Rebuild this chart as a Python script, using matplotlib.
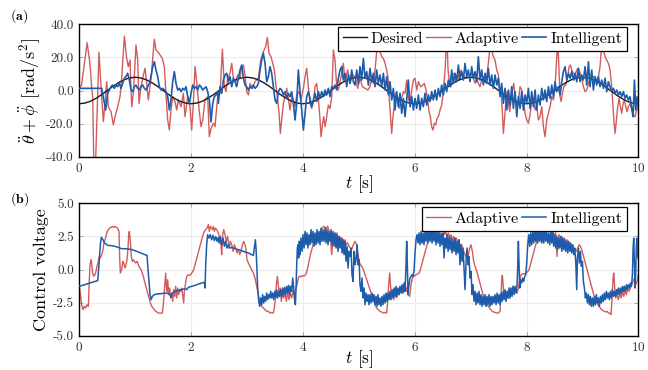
import numpy as np
import matplotlib
matplotlib.use("Agg")
import matplotlib.pyplot as plt

# Police type LaTeX (Computer Modern livrée avec matplotlib)
plt.rcParams['font.family'] = 'serif'
plt.rcParams['font.serif'] = ['cmr10']
plt.rcParams['mathtext.fontset'] = 'cm'
plt.rcParams['axes.unicode_minus'] = False
plt.rcParams['axes.formatter.use_mathtext'] = True

red = '#d25c5c'
blue = '#1c5cab'

# ---- (a) angular acceleration : desired reference, 0.1 s sampling
desired_t = np.linspace(0, 10, 101)
desired_acc = [
    -8.0, -7.6, -6.5, -4.7, -2.5, 0.0, 2.5, 4.7, 6.5, 7.6, 8.0, 7.6, 6.5, 4.7, 2.5, 0.0, -2.5, -4.7, -6.5, -7.6,
    -8.0, -7.6, -6.5, -4.7, -2.5, 0.0, 2.5, 4.7, 6.5, 7.6, 8.0, 7.6, 6.5, 4.7, 2.5, 0.0, -2.5, -4.7, -6.5, -7.6,
    -8.0, -7.6, -6.5, -4.7, -2.5, 0.0, 2.5, 4.7, 6.5, 7.6, 8.0, 7.6, 6.5, 4.7, 2.5, 0.0, -2.5, -4.7, -6.5, -7.6,
    -8.0, -7.6, -6.5, -4.7, -2.5, 0.0, 2.5, 4.7, 6.5, 7.6, 8.0, 7.6, 6.5, 4.7, 2.5, 0.0, -2.5, -4.7, -6.5, -7.6,
    -8.0, -7.6, -6.5, -4.7, -2.5, 0.0, 2.5, 4.7, 6.5, 7.6, 8.0, 7.6, 6.5, 4.7, 2.5, 0.0, -2.5, -4.7, -6.5, -7.6,
    -8.0,
]

# (t [s], value)
adaptive_acc = [
    (0.00, 1.3), (0.04, 3.3), (0.14, 28.9), (0.19, 16.4), (0.22, 2.3), (0.24, -5.0), (0.262, -50.0),
    (0.285, -50.0), (0.317, -15.0), (0.352, 23.1), (0.388, 2.3), (0.43, -18.8), (0.46, -7.8), (0.49, 5.3),
    (0.519, -9.8), (0.567, -12.8), (0.609, -20.8), (0.639, -15.8), (0.686, -9.8), (0.728, -3.7), (0.758, 7.4),
    (0.806, 32.9), (0.847, 19.4), (0.877, 14.4), (0.907, 18.4), (0.937, -9.8), (0.967, -1.7), (1.014, 27.5),
    (1.044, 18.4), (1.068, -7.8), (1.104, 2.3), (1.146, 9.4), (1.175, 13.4), (1.205, 4.3), (1.235, -5.7),
    (1.283, 7.4), (1.342, 30.9), (1.372, 24.5), (1.402, 23.5), (1.444, 21.5), (1.485, 19.4), (1.521, 14.4),
    (1.545, 0.3), (1.581, -17.8), (1.611, -23.9), (1.64, -11.8), (1.67, -3.7), (1.712, -6.7), (1.742, -11.8),
    (1.772, -5.7), (1.819, -9.8), (1.861, -1.7), (1.891, -15.8), (1.939, -3.7), (1.98, -9.8), (2.01, -23.9),
    (2.04, -7.8), (2.07, 14.4), (2.10, 5.3), (2.141, -10.8), (2.177, -21.9), (2.207, -17.8), (2.249, -5.7),
    (2.296, -3.7), (2.326, -27.9), (2.356, -22.9), (2.398, -19.8), (2.427, -21.9), (2.475, -3.7), (2.517, -1.7),
    (2.559, 24.9), (2.595, 2.3), (2.624, -0.7), (2.654, 7.4), (2.696, 10.4), (2.726, 16.4), (2.756, 7.4),
    (2.797, 5.3), (2.833, 9.4), (2.875, 7.4), (2.905, 14.4), (2.935, 15.4), (2.964, 9.4), (2.994, -0.7),
    (3.024, -2.7), (3.054, 4.3), (3.095, 1.3), (3.143, 5.3), (3.203, 7.4), (3.245, 18.4), (3.292, 23.5),
    (3.334, 26.5), (3.364, 32.1), (3.394, 22.5), (3.429, 20.4), (3.453, 17.4), (3.489, 12.4), (3.513, 4.3),
    (3.543, -3.7), (3.573, -13.8), (3.596, -25.9), (3.62, -17.8), (3.65, -7.8), (3.68, -3.7), (3.71, 1.3),
    (3.739, -4.7), (3.769, -11.8), (3.799, -3.7), (3.829, -5.7), (3.859, -9.8), (3.889, -2.7), (3.93, -0.7),
    (3.966, -5.7), (4.008, 1.3), (4.038, 8.4), (4.068, 13.4), (4.097, 2.3), (4.127, -7.8), (4.157, -10.8),
    (4.187, -6.7), (4.217, 2.3), (4.246, 4.3), (4.276, -4.7), (4.306, -17.8), (4.324, -27.9), (4.348, -20.8),
    (4.372, -15.8), (4.396, -21.9), (4.425, -15.8), (4.455, -8.8), (4.485, -10.8), (4.515, -3.7), (4.545, 24.5),
    (4.574, 18.4), (4.604, 2.3), (4.634, 0.3), (4.682, 8.4), (4.723, 16.4), (4.753, 5.3), (4.801, 12.4),
    (4.843, 4.3), (4.884, 9.4), (4.932, 8.4), (4.98, 1.3), (5.021, 7.4), (5.063, 2.3), (5.111, 1.3),
    (5.159, 0.3), (5.2, 2.3), (5.23, 7.4), (5.26, 4.3), (5.29, 12.4), (5.32, 23.5), (5.349, 32.5),
    (5.379, 23.5), (5.409, 20.4), (5.439, 19.4), (5.469, 16.4), (5.498, 12.4), (5.528, 6.3), (5.546, -5.7),
    (5.57, -17.8), (5.588, -25.9), (5.606, -17.8), (5.636, -7.8), (5.659, -1.7), (5.695, -5.7), (5.725, -10.8),
    (5.755, -5.7), (5.797, -0.7), (5.826, -1.7), (5.856, 6.3), (5.886, -4.7), (5.916, -7.8), (5.946, 0.3),
    (5.976, 6.3), (6.005, 7.4), (6.035, 0.3), (6.065, 5.3), (6.107, 2.3), (6.142, 3.3), (6.172, 4.3),
    (6.202, 0.3), (6.232, -5.7), (6.256, -12.8), (6.28, -15.8), (6.303, -21.9), (6.327, -23.9), (6.351, -19.8),
    (6.375, -20.8), (6.399, -16.8), (6.423, -15.8), (6.453, -11.8), (6.482, -8.8), (6.512, -0.7), (6.542, 12.4),
    (6.56, 24.5), (6.578, 30.5), (6.596, 12.4), (6.62, 5.3), (6.649, 2.3), (6.679, 9.4), (6.709, 10.4),
    (6.739, 5.3), (6.769, 10.4), (6.798, 6.3), (6.828, 12.4), (6.858, 9.4), (6.888, 8.4), (6.918, 7.4),
    (6.947, 10.4), (6.977, 9.4), (7.019, 10.4), (7.049, 7.4), (7.079, 4.3), (7.108, 7.4), (7.138, 4.3),
    (7.168, 2.3), (7.198, 6.3), (7.228, 8.4), (7.258, 5.3), (7.287, 8.4), (7.317, 16.4), (7.347, 26.5),
    (7.377, 24.5), (7.407, 20.4), (7.436, 18.4), (7.467, 12.4), (7.497, 9.4), (7.515, 2.3), (7.544, 0.3),
    (7.568, -13.8), (7.586, -25.9), (7.604, -17.8), (7.628, -7.8), (7.652, -0.7), (7.676, -7.8), (7.699, -12.8),
    (7.723, -5.7), (7.747, 0.3), (7.771, 4.3), (7.795, -3.7), (7.825, -9.8), (7.854, -6.7), (7.884, 2.3),
    (7.914, 0.3), (7.944, -5.7), (7.974, -13.8), (8.003, -17.8), (8.033, -19.8), (8.057, -15.8), (8.081, -9.8),
    (8.105, -3.7), (8.129, -7.8), (8.153, -11.8), (8.182, -8.8), (8.212, -17.8), (8.242, -15.8), (8.272, -9.8),
    (8.302, -21.9), (8.331, -27.9), (8.361, -17.8), (8.391, -13.8), (8.421, -9.8), (8.451, -3.7), (8.481, -5.7),
    (8.51, 2.3), (8.528, 12.4), (8.546, 23.5), (8.558, 30.5), (8.582, 10.4), (8.6, -3.7), (8.618, -6.7),
    (8.642, -1.7), (8.665, 2.3), (8.701, 3.3), (8.737, 8.4), (8.761, 14.4), (8.785, 15.4), (8.808, 12.4),
    (8.838, 10.4), (8.868, 9.4), (8.898, 12.4), (8.928, 13.4), (8.958, 10.4), (8.987, 7.4), (9.017, 2.3),
    (9.047, -0.7), (9.077, 0.3), (9.107, 4.3), (9.136, 7.4), (9.166, 8.4), (9.196, 8.4), (9.226, 7.4),
    (9.256, 6.3), (9.286, 8.4), (9.315, 14.4), (9.333, 22.5), (9.345, 30.5), (9.375, 24.5), (9.405, 20.4),
    (9.435, 18.4), (9.464, 16.4), (9.494, 12.4), (9.524, 2.3), (9.548, -9.8), (9.566, -19.8), (9.584, -25.9),
    (9.608, -17.8), (9.631, -9.8), (9.655, -4.7), (9.679, -9.8), (9.703, -13.8), (9.727, -7.8), (9.751, -5.7),
    (9.775, -9.8), (9.798, -12.8), (9.822, -9.8), (9.852, -7.8), (9.882, -11.8), (9.912, -14.8), (9.941, -15.8),
    (9.971, -11.8), (10.0, -7.8),
]

intelligent_acc = [
    (0.0, 1.3), (0.40, 1.3), (0.472, -11.8), (0.507, -1.7), (0.537, 0.3), (0.567, 2.3), (0.597, 3.3),
    (0.627, 1.3), (0.656, 3.3), (0.686, 2.3), (0.716, 4.3), (0.746, 1.3), (0.776, 4.3), (0.806, 7.4),
    (0.835, 8.4), (0.865, 10.4), (0.895, 6.3), (0.925, 0.3), (0.955, -0.7), (0.985, 2.3), (1.014, 3.3),
    (1.044, 1.3), (1.074, 0.3), (1.104, 2.3), (1.134, 3.3), (1.163, 1.3), (1.193, 0.3), (1.223, 2.3),
    (1.253, 4.3), (1.283, 8.4), (1.313, 14.4), (1.342, 17.4), (1.372, 12.4), (1.402, 8.4), (1.432, 2.3),
    (1.462, 0.3), (1.491, 1.3), (1.521, 0.3), (1.551, -0.7), (1.581, -3.7), (1.611, -11.8), (1.64, -5.7),
    (1.67, 5.3), (1.70, 11.4), (1.73, 4.3), (1.76, 0.3), (1.79, 1.3), (1.819, -0.7), (1.849, 1.3),
    (1.879, 0.3), (1.909, 2.3), (1.939, -3.7), (1.969, -7.8), (1.998, -1.7), (2.028, 3.3), (2.058, 1.3),
    (2.088, 2.3), (2.117, 0.3), (2.147, 3.3), (2.177, 2.3), (2.207, 0.3), (2.237, 1.3), (2.267, 2.3),
    (2.296, -0.7), (2.326, -5.7), (2.356, -19.0), (2.386, -7.8), (2.416, -3.7), (2.445, -2.7), (2.475, -0.7),
    (2.487, -7.8), (2.517, 2.3), (2.547, -1.7), (2.577, 6.3), (2.607, 9.4), (2.636, 10.4), (2.666, 5.3),
    (2.696, 8.4), (2.726, 2.3), (2.756, 7.4), (2.785, 5.3), (2.815, 2.3), (2.845, 7.4), (2.875, 12.4),
    (2.905, 15.4), (2.935, 7.4), (2.964, 3.3), (2.994, 2.3), (3.024, 0.3), (3.054, 2.3), (3.084, 1.3),
    (3.113, 3.3), (3.143, 1.3), (3.173, 2.3), (3.203, 4.3), (3.233, 12.4), (3.262, 18.4), (3.292, 22.5),
    (3.322, 16.4), (3.352, 5.3), (3.382, 8.4), (3.411, 14.4), (3.441, 10.4), (3.471, 2.3), (3.501, -5.7),
    (3.531, -7.8), (3.561, -0.7), (3.59, 1.3), (3.62, 0.3), (3.65, -2.7), (3.68, -0.7), (3.71, -4.7),
    (3.739, -1.7), (3.769, -3.7), (3.799, -0.7), (3.829, -7.8), (3.859, -17.8), (3.889, -7.8), (3.918, 12.4),
    (3.948, -0.7), (3.978, -11.8), (4.008, -23.9), (4.038, -13.8), (4.068, -3.7), (4.097, -0.7), (4.127, -4.7),
    (4.157, -9.8), (4.187, -5.7), (4.217, -1.7), (4.246, -6.7), (4.276, -0.7), (4.306, -4.7), (4.336, -0.7),
    (4.366, -3.7), (4.396, 0.3), (4.425, -2.7), (4.455, 1.3), (4.485, -3.7), (4.515, 2.3), (4.545, 1.3),
    (4.574, 3.3), (4.604, 0.3), (4.634, 7.4), (4.664, 12.4), (4.694, 14.4), (4.723, 6.3), (4.753, 10.4),
    (4.783, 2.3), (4.813, 9.4), (4.843, 4.3), (4.873, 12.4), (4.902, 5.3), (4.932, 3.3), (4.962, 12.4),
    (4.992, 4.3), (5.021, 14.4), (5.051, 6.3), (5.081, 19.4), (5.111, 7.4), (5.141, 11.4), (5.171, 3.3),
    (5.2, 13.4), (5.23, 5.3), (5.26, 10.4), (5.29, 2.3), (5.32, 12.4), (5.349, 4.3), (5.379, 9.4),
    (5.409, 2.3), (5.439, 10.4), (5.469, 0.3), (5.498, 8.4), (5.528, -2.7), (5.558, 5.3), (5.588, -5.7),
    (5.618, 1.3), (5.648, -11.8), (5.677, -0.7), (5.707, -9.8), (5.737, -1.7), (5.767, -13.8), (5.797, -4.7),
    (5.826, -15.8), (5.856, -5.7), (5.886, 6.3), (5.916, -9.8), (5.946, -3.7), (5.976, -11.8), (6.005, -4.7),
    (6.035, -10.8), (6.065, -2.7), (6.095, -11.8), (6.125, -4.7), (6.154, -9.8), (6.184, -1.7), (6.214, -8.8),
    (6.244, -2.7), (6.274, -6.7), (6.303, -0.7), (6.333, -5.7), (6.363, 0.3), (6.393, -5.7), (6.423, 1.3),
    (6.453, -3.7), (6.482, 3.3), (6.512, -2.7), (6.542, 4.3), (6.572, -0.7), (6.602, 6.3), (6.631, 2.3),
    (6.661, 12.4), (6.691, 4.3), (6.721, 10.4), (6.751, 5.3), (6.78, 15.4), (6.81, 7.4), (6.84, 11.4),
    (6.87, 6.3), (6.9, 16.4), (6.93, 8.4), (6.959, 12.4), (6.989, 5.3), (7.019, 14.4), (7.049, 7.4),
    (7.079, 11.4), (7.108, 5.3), (7.138, 20.4), (7.168, 6.3), (7.198, 12.4), (7.228, 3.3), (7.258, 10.4),
    (7.287, 4.3), (7.317, 13.4), (7.347, 3.3), (7.377, 9.4), (7.407, 1.3), (7.437, 9.4), (7.467, 3.3),
    (7.497, 7.4), (7.526, -3.7), (7.556, 4.3), (7.586, -7.8), (7.616, 1.3), (7.646, -11.8), (7.676, 0.3),
    (7.705, -8.8), (7.735, 2.3), (7.765, -10.8), (7.795, -0.7), (7.825, -15.8), (7.854, -3.7), (7.884, -10.8),
    (7.914, -0.7), (7.944, -11.8), (7.974, -2.7), (8.003, -7.8), (8.033, 1.3), (8.063, -10.8), (8.093, -0.7),
    (8.123, -9.8), (8.153, 0.3), (8.182, -11.8), (8.212, -2.7), (8.242, -8.8), (8.272, 1.3), (8.302, -5.7),
    (8.331, 0.3), (8.361, -6.7), (8.391, 2.3), (8.421, -4.7), (8.451, 3.3), (8.481, -3.7), (8.51, 5.3),
    (8.54, -0.7), (8.57, 2.3), (8.6, -2.7), (8.63, 5.3), (8.659, 11.4), (8.689, 14.4), (8.719, 6.3),
    (8.749, 10.4), (8.779, 7.4), (8.808, 11.4), (8.838, 6.3), (8.868, 10.4), (8.898, 5.3), (8.928, 13.4),
    (8.958, 5.3), (8.987, 9.4), (9.017, 6.3), (9.047, 14.4), (9.077, 3.3), (9.107, 17.4), (9.136, 2.3),
    (9.166, 12.4), (9.196, 0.3), (9.226, 8.4), (9.256, 3.3), (9.286, 8.4), (9.315, 2.3), (9.345, 6.3),
    (9.375, 1.3), (9.405, 7.4), (9.435, -0.7), (9.464, 5.3), (9.494, 2.3), (9.524, -0.7), (9.554, 1.3),
    (9.584, -1.7), (9.613, 0.3), (9.643, -2.7), (9.673, -0.7), (9.703, -3.7), (9.733, -0.7), (9.762, -4.7),
    (9.792, -2.7), (9.822, -5.7), (9.852, -3.7), (9.882, -10.8), (9.906, -15.8), (9.93, 6.3), (9.953, -11.8),
    (9.977, -3.7), (10.0, -7.8),
]

# ---- (b) control voltage, (t [s], V)
adaptive_volt = [
    (0.0, -1.27), (0.019, -1.90), (0.042, -2.66), (0.066, -3.04), (0.09, -2.78), (0.114, -2.91), (0.138, -2.66),
    (0.162, -2.78), (0.173, -1.40), (0.191, 0.36), (0.209, 0.74), (0.221, 0.49), (0.239, -0.27), (0.257, -0.52),
    (0.281, -0.39), (0.299, -0.14), (0.317, 0.24), (0.34, 0.62), (0.358, 0.99), (0.376, 0.87), (0.40, 1.12),
    (0.418, 1.37), (0.436, 1.87), (0.46, 2.25), (0.483, 2.63), (0.501, 2.88), (0.519, 3.01), (0.543, 3.13),
    (0.567, 3.18), (0.591, 3.26), (0.615, 3.18), (0.639, 3.26), (0.662, 3.18), (0.686, 3.13), (0.71, 2.88),
    (0.722, 0.87), (0.734, -0.27), (0.758, -0.01), (0.776, 0.62), (0.794, 0.49), (0.818, 0.11), (0.835, 0.36),
    (0.853, 0.74), (0.871, 1.62), (0.883, 2.63), (0.895, 2.88), (0.913, 2.13), (0.931, 0.99), (0.949, 0.62),
    (0.967, 0.74), (0.985, 0.62), (1.008, 0.49), (1.032, 0.62), (1.056, 0.36), (1.08, 0.11), (1.104, -0.01),
    (1.128, -0.27), (1.151, -0.64), (1.175, -1.02), (1.199, -1.40), (1.223, -1.78), (1.247, -2.15), (1.271, -2.53),
    (1.295, -2.78), (1.318, -2.91), (1.342, -3.04), (1.366, -3.16), (1.39, -3.21), (1.414, -3.29), (1.438, -3.29),
    (1.462, -3.29), (1.485, -3.29), (1.503, -2.66), (1.521, -1.65), (1.533, -0.90), (1.545, -0.27), (1.557, -1.27),
    (1.569, -1.65), (1.581, -0.77), (1.599, -1.90), (1.617, -1.40), (1.634, -2.15), (1.652, -1.78), (1.67, -2.41),
    (1.688, -1.52), (1.706, -2.03), (1.724, -1.27), (1.742, -2.15), (1.76, -1.40), (1.778, -1.90), (1.795, -1.52),
    (1.813, -1.65), (1.831, -1.40), (1.849, -1.90), (1.867, -2.53), (1.879, -1.65), (1.897, -1.15), (1.915, -0.64),
    (1.933, -0.45), (1.951, -0.40), (1.974, -0.45), (1.998, -0.35), (2.022, -0.20), (2.046, -0.01), (2.07, 0.36),
    (2.094, 0.74), (2.117, 1.12), (2.141, 1.50), (2.165, 1.87), (2.189, 2.25), (2.213, 2.63), (2.237, 2.88),
    (2.261, 3.01), (2.284, 3.13), (2.308, 3.39), (2.326, 2.88), (2.344, 3.26), (2.362, 3.13), (2.38, 3.01),
    (2.398, 3.26), (2.416, 2.88), (2.434, 3.13), (2.457, 3.01), (2.487, 2.76), (2.517, 2.38), (2.535, 1.75),
    (2.547, 1.12), (2.565, 2.63), (2.583, 3.01), (2.607, 2.63), (2.63, 2.13), (2.654, 2.50), (2.678, 1.62),
    (2.702, 2.13), (2.726, 1.87), (2.75, 1.37), (2.773, 1.87), (2.797, 1.62), (2.821, 1.25), (2.845, 1.50),
    (2.869, 1.12), (2.893, 1.37), (2.917, 1.87), (2.94, 2.13), (2.964, 1.87), (2.982, 1.50), (3.0, 0.74),
    (3.024, 0.49), (3.054, 0.24), (3.084, -0.01), (3.113, -0.27), (3.143, -0.64), (3.167, -1.15), (3.191, -1.65),
    (3.215, -2.15), (3.239, -2.53), (3.262, -2.78), (3.292, -2.91), (3.322, -3.04), (3.352, -3.16), (3.382, -3.16),
    (3.411, -3.29), (3.441, -3.24), (3.471, -3.29), (3.489, -2.91), (3.507, -2.15), (3.525, -1.15), (3.543, -0.52),
    (3.561, -1.27), (3.578, -1.90), (3.596, -1.40), (3.614, -2.41), (3.632, -1.78), (3.656, -2.15), (3.68, -1.78),
    (3.704, -2.41), (3.727, -1.65), (3.751, -2.28), (3.775, -1.78), (3.799, -2.15), (3.823, -1.65), (3.847, -1.90),
    (3.871, -1.52), (3.894, -1.15), (3.918, -0.64), (3.942, -0.50), (3.966, -0.55), (3.99, -0.45), (4.014, -0.50),
    (4.038, -0.45), (4.062, -0.27), (4.085, 0.11), (4.109, 0.62), (4.133, 1.12), (4.157, 1.50), (4.181, 1.87),
    (4.205, 2.13), (4.228, 2.25), (4.252, 2.50), (4.276, 2.63), (4.3, 2.76), (4.324, 3.01), (4.348, 3.13),
    (4.372, 3.26), (4.396, 3.18), (4.419, 3.08), (4.443, 3.26), (4.467, 2.88), (4.491, 2.50), (4.515, 1.12),
    (4.538, 2.38), (4.562, 2.76), (4.586, 2.50), (4.61, 2.76), (4.634, 2.25), (4.658, 2.50), (4.682, 2.13),
    (4.705, 2.38), (4.729, 2.00), (4.753, 2.25), (4.777, 1.87), (4.801, 2.00), (4.825, 1.75), (4.849, 1.60),
    (4.872, 1.50), (4.896, 1.80), (4.932, 2.13), (4.962, 1.87), (4.98, 1.37), (5.004, 0.62), (5.027, 0.36),
    (5.051, 0.24), (5.081, -0.01), (5.111, -0.39), (5.141, -0.77), (5.171, -1.15), (5.2, -1.52), (5.23, -1.90),
    (5.26, -2.28), (5.29, -2.66), (5.32, -2.91), (5.349, -3.04), (5.379, -3.16), (5.409, -3.21), (5.439, -3.29),
    (5.469, -3.24), (5.498, -3.29), (5.516, -2.41), (5.534, -1.15), (5.552, -0.27), (5.57, -1.40), (5.588, -2.15),
    (5.606, -1.65), (5.624, -2.28), (5.648, -1.65), (5.671, -2.15), (5.695, -1.52), (5.719, -1.90), (5.743, -1.40),
    (5.767, -1.78), (5.791, -1.27), (5.815, -1.65), (5.838, -1.27), (5.862, -1.65), (5.886, -1.90), (5.91, -2.03),
    (5.934, -1.15), (5.958, -0.64), (5.981, -0.52), (6.005, -0.44), (6.029, -0.39), (6.053, -0.34), (6.077, -0.27),
    (6.101, -0.01), (6.125, 0.36), (6.148, 0.74), (6.172, 1.12), (6.196, 1.50), (6.22, 1.87), (6.244, 2.18),
    (6.268, 2.43), (6.292, 2.63), (6.315, 2.83), (6.339, 2.93), (6.363, 3.01), (6.387, 3.08), (6.411, 3.13),
    (6.435, 3.01), (6.459, 3.18), (6.482, 2.88), (6.506, 3.08), (6.53, 2.63), (6.554, 2.88), (6.578, 2.50),
    (6.602, 2.76), (6.625, 2.38), (6.649, 2.63), (6.673, 2.25), (6.697, 2.50), (6.721, 2.13), (6.745, 2.38),
    (6.769, 2.00), (6.792, 2.13), (6.816, 1.75), (6.84, 1.87), (6.864, 1.50), (6.888, 1.25), (6.912, 0.99),
    (6.936, 0.87), (6.959, 1.12), (6.983, 1.62), (7.007, 1.87), (7.031, 1.37), (7.055, 0.62), (7.079, 0.24),
    (7.102, -0.01), (7.126, -0.39), (7.15, -0.77), (7.174, -1.15), (7.198, -1.52), (7.222, -1.90), (7.246, -2.15),
    (7.27, -2.41), (7.293, -2.66), (7.317, -2.78), (7.347, -2.96), (7.377, -3.11), (7.407, -3.21), (7.436, -3.24),
    (7.466, -3.29), (7.496, -3.29), (7.526, -3.16), (7.544, -1.90), (7.556, -0.77), (7.568, -0.44), (7.586, -1.40),
    (7.604, -2.15), (7.622, -1.78), (7.64, -2.28), (7.664, -1.65), (7.687, -2.15), (7.711, -1.40), (7.735, -1.90),
    (7.759, -1.27), (7.783, -1.78), (7.807, -1.40), (7.831, -1.78), (7.854, -1.40), (7.878, -0.80), (7.902, -0.40),
    (7.926, -0.35), (7.95, -0.30), (7.974, -0.35), (7.998, -0.25), (8.021, -0.15), (8.045, -0.01), (8.069, 0.36),
    (8.093, 0.74), (8.117, 1.12), (8.141, 1.50), (8.164, 1.87), (8.188, 2.18), (8.212, 2.43), (8.236, 2.63),
    (8.26, 2.76), (8.284, 2.88), (8.308, 2.93), (8.331, 3.01), (8.355, 2.93), (8.379, 3.08), (8.403, 2.88),
    (8.427, 3.01), (8.451, 2.63), (8.475, 2.88), (8.498, 2.50), (8.522, 2.76), (8.546, 0.99), (8.558, 2.38),
    (8.582, 2.63), (8.606, 2.25), (8.63, 2.50), (8.653, 2.13), (8.677, 2.38), (8.701, 2.00), (8.725, 2.25),
    (8.749, 1.87), (8.773, 2.00), (8.797, 1.62), (8.82, 1.87), (8.844, 1.62), (8.868, 1.50), (8.892, 1.37),
    (8.916, 1.62), (8.94, 1.87), (8.964, 1.75), (8.987, 1.50), (9.011, 1.12), (9.035, 0.74), (9.059, 0.36),
    (9.083, -0.01), (9.107, -0.39), (9.131, -0.77), (9.154, -1.15), (9.178, -1.52), (9.202, -1.90), (9.226, -2.15),
    (9.25, -2.41), (9.274, -2.66), (9.297, -2.78), (9.321, -2.91), (9.345, -3.04), (9.369, -3.11), (9.393, -3.16),
    (9.417, -3.21), (9.441, -3.16), (9.464, -3.29), (9.488, -3.29), (9.512, -3.41), (9.53, -2.15), (9.548, -0.64),
    (9.56, -0.27), (9.578, -1.40), (9.596, -2.15), (9.62, -1.90), (9.643, -2.28), (9.667, -1.78), (9.691, -2.15),
    (9.715, -1.65), (9.739, -2.03), (9.762, -1.52), (9.786, -1.90), (9.81, -1.40), (9.834, -1.65), (9.858, -1.40),
    (9.882, -1.15), (9.906, -0.90), (9.93, -0.64), (9.953, -1.15), (9.977, -0.90), (10.0, -0.39),
]

intelligent_volt = [
    (0.0, -1.27), (0.329, -0.84), (0.352, 0.36), (0.376, 1.87), (0.394, 2.43), (0.424, 2.25), (0.448, 2.00),
    (0.472, 1.93), (0.495, 1.87), (0.519, 1.82), (0.579, 1.80), (0.639, 1.75), (0.698, 1.67), (0.758, 1.57),
    (0.818, 1.57), (0.877, 1.55), (0.937, 1.50), (0.997, 1.42), (1.056, 1.32), (1.116, 1.22), (1.175, 1.12),
    (1.211, 1.07), (1.223, 0.36), (1.247, -0.90), (1.265, -1.90), (1.283, -2.28), (1.307, -2.03), (1.342, -1.90),
    (1.384, -1.85), (1.444, -1.83), (1.503, -1.80), (1.563, -1.78), (1.622, -1.90), (1.64, -2.10), (1.664, -1.78),
    (1.712, -1.65), (1.772, -1.57), (1.831, -1.50), (1.891, -1.45), (1.921, -1.52), (1.951, -1.35), (2.01, -1.27),
    (2.07, -1.20), (2.129, -1.10), (2.189, -1.02), (2.237, -0.97), (2.249, -1.40), (2.261, 0.36), (2.278, 1.87),
    (2.296, 2.63), (2.32, 2.38), (2.344, 2.63), (2.368, 2.25), (2.392, 2.58), (2.416, 2.18), (2.44, 2.50),
    (2.463, 2.13), (2.487, 2.43), (2.499, 2.00), (2.523, 2.50), (2.547, 1.87), (2.571, 2.38), (2.595, 1.75),
    (2.618, 2.13), (2.642, 1.62), (2.666, 1.87), (2.696, 1.62), (2.726, 1.67), (2.756, 1.62), (2.785, 1.57),
    (2.845, 1.50), (2.905, 1.42), (2.964, 1.32), (3.024, 1.25), (3.084, 1.12), (3.113, 1.07), (3.131, 1.62),
    (3.149, 2.25), (3.161, 1.62), (3.173, 0.36), (3.191, -1.40), (3.209, -2.41), (3.227, -2.78), (3.245, -2.15),
    (3.262, -2.66), (3.28, -1.90), (3.298, -2.53), (3.316, -2.03), (3.334, -2.41), (3.352, -1.78), (3.37, -2.28),
    (3.388, -1.90), (3.405, -2.15), (3.423, -1.65), (3.441, -2.15), (3.459, -1.78), (3.477, -2.28), (3.495, -1.65),
    (3.513, -2.15), (3.531, -1.52), (3.549, -2.15), (3.567, -1.65), (3.584, -2.03), (3.602, -1.52), (3.62, -2.03),
    (3.638, -1.40), (3.656, -1.90), (3.674, -1.35), (3.692, -1.90), (3.71, -1.27), (3.727, -1.78), (3.745, -1.20),
    (3.763, -1.90), (3.781, -1.27), (3.799, -1.65), (3.817, -0.64), (3.835, -1.40), (3.847, -2.15), (3.865, -2.66),
    (3.877, -1.40), (3.889, 0.36), (3.9, 1.62), (3.912, 1.87), (3.924, 0.87), (3.936, 2.13), (3.948, 1.12),
    (3.966, 2.38), (3.984, 1.37), (4.002, 2.63), (4.02, 1.62), (4.038, 2.88), (4.056, 1.87), (4.073, 2.76),
    (4.091, 1.62), (4.109, 2.63), (4.127, 1.87), (4.145, 3.01), (4.163, 2.00), (4.181, 2.88), (4.199, 1.75),
    (4.217, 2.76), (4.234, 1.87), (4.252, 3.01), (4.27, 2.00), (4.288, 2.88), (4.306, 1.87), (4.324, 3.13),
    (4.342, 2.13), (4.36, 3.01), (4.378, 2.13), (4.396, 3.13), (4.413, 2.00), (4.431, 3.01), (4.449, 1.87),
    (4.467, 2.88), (4.485, 2.13), (4.503, 3.01), (4.521, 1.87), (4.538, 2.88), (4.556, 1.75), (4.574, 2.76),
    (4.592, 1.62), (4.61, 2.63), (4.628, 1.37), (4.646, 2.50), (4.664, 1.62), (4.682, 2.38), (4.7, 1.25),
    (4.717, 2.25), (4.735, 1.12), (4.753, 2.13), (4.771, 0.62), (4.789, 1.75), (4.807, 0.11), (4.825, 1.37),
    (4.843, 0.99), (4.86, 1.62), (4.878, -0.39), (4.896, -0.90), (4.914, 1.37), (4.932, 0.36), (4.95, 0.74),
    (4.968, 1.87), (4.986, 0.36), (5.004, 0.74), (5.021, -1.15), (5.039, -1.65), (5.057, -0.64), (5.075, -2.15),
    (5.093, -1.40), (5.111, -2.66), (5.129, -1.78), (5.147, -2.41), (5.165, -1.90), (5.182, -2.66), (5.2, -1.90),
    (5.218, -2.53), (5.236, -1.78), (5.254, -2.41), (5.272, -1.90), (5.29, -2.66), (5.308, -2.03), (5.326, -2.78),
    (5.343, -1.90), (5.361, -2.66), (5.379, -2.15), (5.397, -2.78), (5.415, -2.03), (5.433, -2.66), (5.451, -1.90),
    (5.469, -2.53), (5.487, -1.78), (5.504, -2.41), (5.522, -1.78), (5.54, -2.28), (5.558, -1.65), (5.576, -2.28),
    (5.594, -1.52), (5.612, -2.15), (5.63, -1.40), (5.648, -2.03), (5.665, -1.27), (5.683, -2.03), (5.701, -1.40),
    (5.719, -1.90), (5.737, -1.27), (5.755, -1.78), (5.773, -1.15), (5.791, -1.78), (5.809, -1.02), (5.826, -1.65),
    (5.844, 0.36), (5.856, 2.13), (5.868, 0.36), (5.88, -1.90), (5.898, -1.15), (5.916, -0.64), (5.934, -0.52),
    (5.952, -0.39), (5.97, -0.52), (5.987, -0.14), (6.005, 1.25), (6.023, 2.25), (6.041, 2.63), (6.059, 2.00),
    (6.077, 2.76), (6.095, 1.87), (6.113, 2.88), (6.131, 2.00), (6.148, 2.76), (6.166, 1.87), (6.184, 2.88),
    (6.202, 2.13), (6.22, 3.01), (6.238, 2.00), (6.256, 2.88), (6.274, 2.13), (6.292, 3.01), (6.309, 2.00),
    (6.327, 2.88), (6.345, 2.13), (6.363, 3.01), (6.381, 1.87), (6.399, 2.88), (6.417, 2.00), (6.435, 2.88),
    (6.453, 1.75), (6.47, 2.76), (6.488, 1.87), (6.506, 2.76), (6.524, 0.87), (6.542, 2.38), (6.56, 1.62),
    (6.578, 2.63), (6.596, 1.37), (6.614, 2.50), (6.631, 1.50), (6.649, 2.38), (6.667, 1.25), (6.685, 2.25),
    (6.703, 1.37), (6.721, 2.38), (6.739, 1.12), (6.757, 2.13), (6.775, 1.25), (6.792, 2.25), (6.81, 0.36),
    (6.828, 1.87), (6.846, 0.62), (6.864, 1.62), (6.882, 0.11), (6.9, -1.52), (6.918, 0.62), (6.936, 1.62),
    (6.953, 0.36), (6.971, 0.99), (6.989, -0.64), (7.007, -0.14), (7.025, -1.90), (7.043, -1.15), (7.061, -2.41),
    (7.079, -1.65), (7.097, -2.66), (7.114, -1.78), (7.132, -2.53), (7.15, -1.65), (7.168, -2.66), (7.186, -1.90),
    (7.204, -2.78), (7.222, -2.03), (7.24, -2.66), (7.258, -1.90), (7.275, -2.78), (7.293, -2.03), (7.311, -2.66),
    (7.329, -1.90), (7.347, -2.78), (7.365, -2.03), (7.383, -2.66), (7.4, -2.03), (7.418, -2.53), (7.436, -1.90),
    (7.455, -2.66), (7.473, -1.78), (7.491, -2.53), (7.509, -1.90), (7.526, -2.66), (7.544, -1.78), (7.562, -2.41),
    (7.58, -1.65), (7.598, -2.28), (7.616, -1.52), (7.634, -2.41), (7.652, -1.65), (7.67, -2.15), (7.687, -1.40),
    (7.705, -2.15), (7.723, -1.40), (7.741, -2.03), (7.759, -1.27), (7.777, -1.90), (7.795, -1.27), (7.813, -1.78),
    (7.831, -1.15), (7.843, 0.36), (7.854, 2.13), (7.866, 0.36), (7.878, -1.40), (7.896, -0.77), (7.914, -1.02),
    (7.932, -0.64), (7.95, -0.90), (7.968, -0.52), (7.986, -0.39), (8.003, 0.49), (8.021, 1.87), (8.039, 2.63),
    (8.057, 1.75), (8.075, 2.76), (8.093, 1.87), (8.111, 2.88), (8.129, 2.00), (8.147, 2.88), (8.164, 2.13),
    (8.182, 3.01), (8.2, 2.00), (8.218, 2.88), (8.236, 2.13), (8.254, 3.01), (8.272, 2.00), (8.29, 2.88),
    (8.308, 2.00), (8.325, 3.01), (8.343, 2.13), (8.361, 2.88), (8.379, 2.00), (8.397, 2.76), (8.415, 1.87),
    (8.433, 2.88), (8.451, 2.00), (8.469, 2.76), (8.486, 1.75), (8.504, 2.63), (8.522, 1.62), (8.54, 2.50),
    (8.558, 1.50), (8.576, 2.38), (8.594, 1.62), (8.612, 2.50), (8.63, 1.37), (8.647, 2.38), (8.665, 1.50),
    (8.683, 2.25), (8.701, 1.37), (8.719, 2.13), (8.737, 1.25), (8.755, 2.13), (8.773, 1.37), (8.791, 2.00),
    (8.808, 1.25), (8.826, 1.87), (8.844, 1.12), (8.862, 1.62), (8.88, 0.62), (8.898, -1.52), (8.91, 0.87),
    (8.928, 1.62), (8.946, 0.49), (8.964, 1.37), (8.981, 0.24), (8.999, 0.62), (9.017, -0.90), (9.035, -1.40),
    (9.053, -2.15), (9.071, -1.78), (9.089, -2.53), (9.107, -1.90), (9.125, -2.66), (9.142, -2.03), (9.16, -2.78),
    (9.178, -2.15), (9.196, -2.78), (9.214, -2.03), (9.232, -2.66), (9.25, -1.90), (9.268, -2.53), (9.286, -2.15),
    (9.303, -2.78), (9.321, -2.03), (9.339, -2.53), (9.357, -1.90), (9.375, -2.41), (9.393, -1.78), (9.411, -2.28),
    (9.429, -1.65), (9.447, -2.15), (9.464, -1.78), (9.482, -2.28), (9.5, -1.65), (9.518, -2.15), (9.536, -1.52),
    (9.554, -2.03), (9.572, -1.65), (9.59, -2.03), (9.608, -1.52), (9.625, -1.90), (9.643, -1.40), (9.661, -1.90),
    (9.679, -1.40), (9.697, -1.78), (9.715, -1.27), (9.733, -1.65), (9.751, -1.27), (9.769, -1.65), (9.786, -1.15),
    (9.804, -1.52), (9.822, -1.15), (9.84, -1.40), (9.858, -1.02), (9.876, -1.27), (9.894, -0.39), (9.906, 1.62),
    (9.918, 2.38), (9.93, 0.36), (9.941, -1.40), (9.953, -0.14), (9.965, 1.87), (9.977, 2.38), (9.989, 0.87),
    (10.0, 1.90),
]

x_ticks = [0, 2, 4, 6, 8, 10]
acc_ticks = [-40, -20, 0, 20, 40]
acc_tick_labels = ['-40.0', '-20.0', '0.0', '20.0', '40.0']
volt_ticks = [-5, -2.5, 0, 2.5, 5]
volt_tick_labels = ['-5.0', '-2.5', '0.0', '2.5', '5.0']

fig = plt.figure(figsize=(6.48, 3.70), dpi=100)
ax1 = fig.add_axes([0.1224, 0.5765, 0.8627, 0.3578])
ax2 = fig.add_axes([0.1224, 0.0927, 0.8627, 0.3578])

t_a, v_a = zip(*adaptive_acc)
t_i, v_i = zip(*intelligent_acc)
ax1.plot(desired_t, desired_acc, color='#1a1a1a', lw=1.0, label='Desired', zorder=3)
ax1.plot(t_a, v_a, color=red, lw=1.0, label='Adaptive', zorder=2)
ax1.plot(t_i, v_i, color=blue, lw=1.2, label='Intelligent', zorder=4)

t_a, v_a = zip(*adaptive_volt)
t_i, v_i = zip(*intelligent_volt)
ax2.plot(t_a, v_a, color=red, lw=1.0, label='Adaptive', zorder=2)
ax2.plot(t_i, v_i, color=blue, lw=1.1, label='Intelligent', zorder=3)

for ax in (ax1, ax2):
    ax.set_xlim(0, 10)
    ax.set_xticks(x_ticks)
    ax.grid(True, color='#ececec', lw=0.8, zorder=0)
    ax.set_axisbelow(True)
    ax.tick_params(direction='in', length=3, width=0.6, color='#9a9a9a',
                   top=True, right=True, labelsize=9.5, labelcolor='#333333', pad=4)
    for sp in ax.spines.values():
        sp.set_linewidth(1.0)
        sp.set_color('black')

ax1.set_xlabel(r'$t$ [s]', fontsize=12.5, labelpad=-1.5)
ax2.set_xlabel(r'$t$ [s]', fontsize=12.5, labelpad=-4)

ax1.set_ylim(-40, 40)
ax1.set_yticks(acc_ticks)
ax1.set_yticklabels(acc_tick_labels)
ax1.set_ylabel(r'$\ddot{\theta}+\ddot{\phi}$ [rad/s$^2$]', fontsize=13, labelpad=3)

ax2.set_ylim(-5, 5)
ax2.set_yticks(volt_ticks)
ax2.set_yticklabels(volt_tick_labels)
ax2.set_ylabel('Control voltage', fontsize=13, labelpad=3)

leg_opts = dict(loc='upper right', borderaxespad=0, fontsize=11.6, handlelength=1.5,
                handletextpad=0.25, columnspacing=0.2, borderpad=0.3,
                fancybox=False, framealpha=1, edgecolor='black')
l1 = ax1.legend(ncol=3, bbox_to_anchor=(0.980, 0.982), **leg_opts)
l2 = ax2.legend(ncol=2, bbox_to_anchor=(0.980, 0.974), **leg_opts)
for leg in (l1, l2):
    leg.get_frame().set_linewidth(0.9)
    leg.set_zorder(10)

fig.align_ylabels([ax1, ax2])

fig.text(0.016, 0.957, r'$\mathbf{(a)}$', fontsize=10, va='center')
fig.text(0.016, 0.462, r'$\mathbf{(b)}$', fontsize=10, va='center')

plt.savefig('out.png', dpi=100)
plt.close()
